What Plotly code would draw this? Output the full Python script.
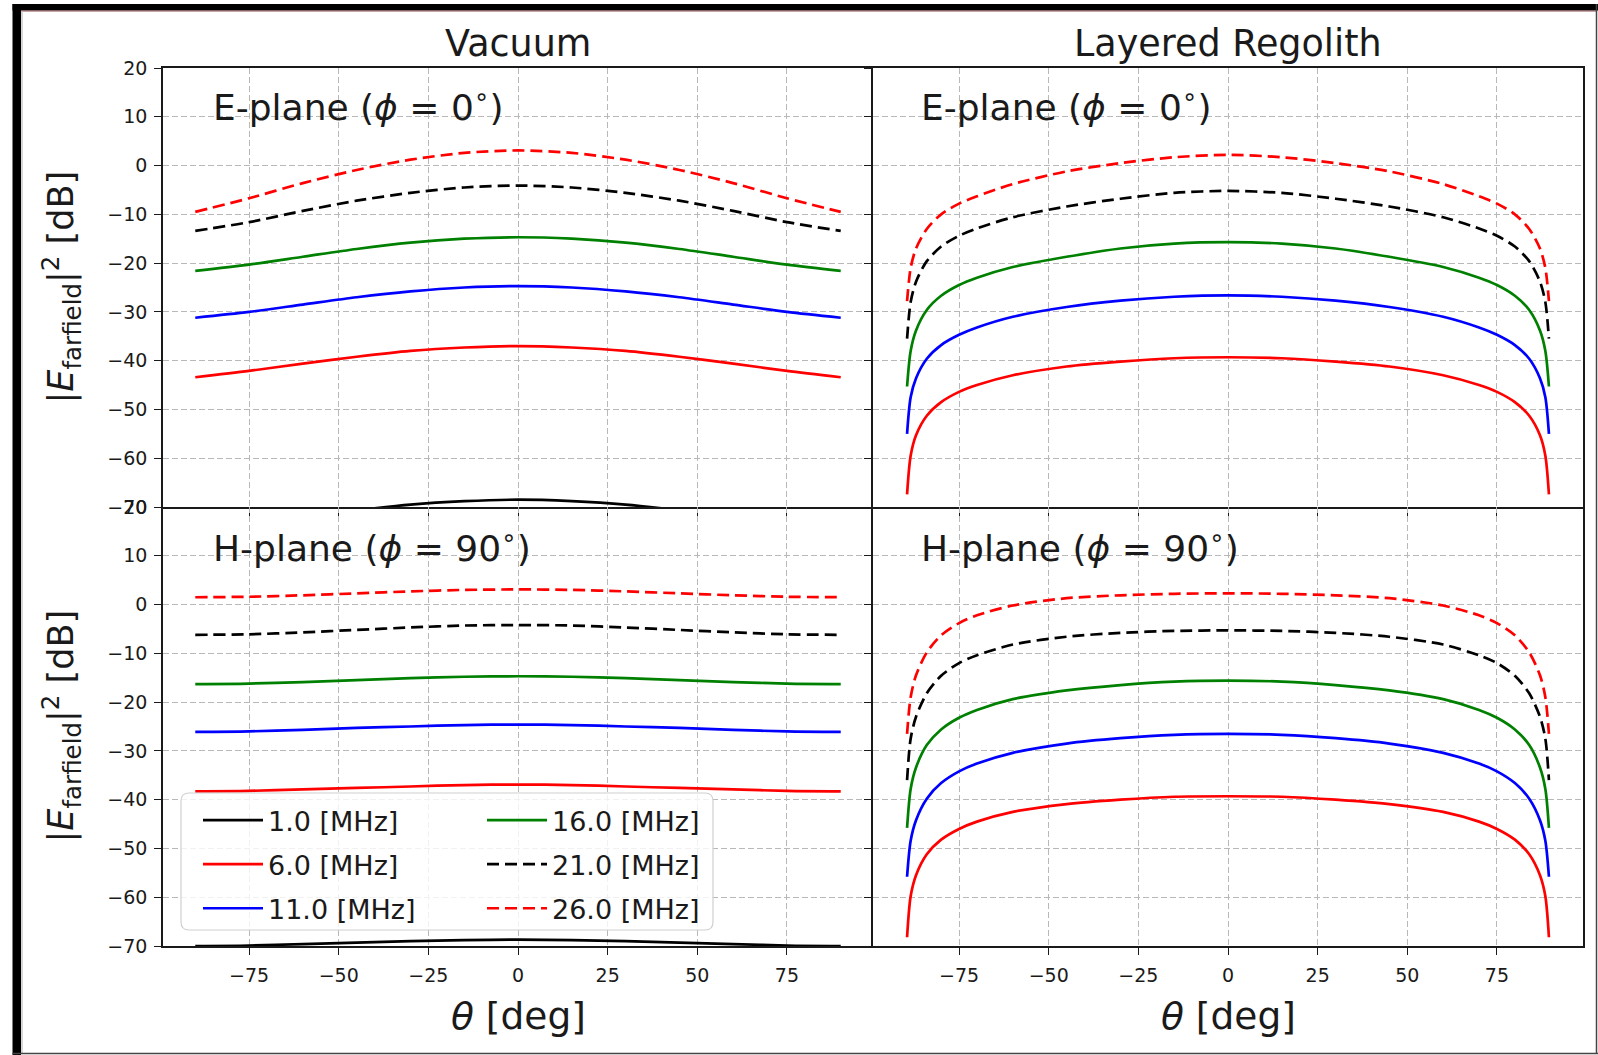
import plotly.graph_objects as go

# ---------------- data ----------------
freq_labels = ["1.0 [MHz]", "6.0 [MHz]", "11.0 [MHz]", "16.0 [MHz]", "21.0 [MHz]", "26.0 [MHz]"]
line_colors = ["black", "red", "blue", "green", "black", "red"]
line_dashes = ["solid", "solid", "solid", "solid", "dash", "dash"]

theta_vac = [-90, -75, -60, -45, -30, -15, 0, 15, 30, 45, 60, 75, 90]

vacE_1 = [-74.9, -73.6, -72.1, -70.7, -69.5, -68.8, -68.5, -68.8, -69.5, -70.7, -72.1, -73.6, -74.9]
vacE_6 = [-43.4, -42.1, -40.6, -39.2, -38.0, -37.3, -37.0, -37.3, -38.0, -39.2, -40.6, -42.1, -43.4]
vacE_11 = [-31.2, -30.0, -28.5, -27.0, -25.8, -25.0, -24.7, -25.0, -25.8, -27.0, -28.5, -30.0, -31.2]
vacE_16 = [-21.6, -20.3, -18.7, -17.1, -15.8, -15.0, -14.7, -15.0, -15.8, -17.1, -18.7, -20.3, -21.6]
vacE_21 = [-13.4, -11.6, -9.3, -7.2, -5.6, -4.5, -4.1, -4.5, -5.6, -7.2, -9.3, -11.6, -13.4]
vacE_26 = [-9.5, -6.7, -3.6, -0.9, 1.2, 2.6, 3.1, 2.6, 1.2, -0.9, -3.6, -6.7, -9.5]

vacH_1 = [-70.0, -69.9, -69.6, -69.3, -69.0, -68.8, -68.7, -68.8, -69.0, -69.3, -69.6, -69.9, -70.0]
vacH_6 = [-38.3, -38.2, -37.9, -37.6, -37.3, -37.0, -36.9, -37.0, -37.3, -37.6, -37.9, -38.2, -38.3]
vacH_11 = [-26.1, -26.0, -25.7, -25.3, -25.0, -24.7, -24.6, -24.7, -25.0, -25.3, -25.7, -26.0, -26.1]
vacH_16 = [-16.3, -16.2, -15.9, -15.5, -15.1, -14.8, -14.7, -14.8, -15.1, -15.5, -15.9, -16.2, -16.3]
vacH_21 = [-6.2, -6.1, -5.7, -5.2, -4.7, -4.3, -4.2, -4.3, -4.7, -5.2, -5.7, -6.1, -6.2]
vacH_26 = [1.5, 1.6, 1.9, 2.3, 2.7, 3.0, 3.1, 3.0, 2.7, 2.3, 1.9, 1.6, 1.5]

theta_reg = [-89.5, -88.5, -87, -84, -80, -75, -70, -60, -45, -30, -15, 0,
             15, 30, 45, 60, 70, 75, 80, 84, 87, 88.5, 89.5]

regE_1 = [-103.6, -95.7, -91.5, -87.5, -84.7, -82.6, -81.2, -79.2, -77.4, -76.4, -75.7, -75.5,
          -75.7, -76.4, -77.4, -79.2, -81.2, -82.6, -84.7, -87.5, -91.5, -95.7, -103.6]
regE_6 = [-67.4, -59.5, -55.3, -51.3, -48.5, -46.4, -45.0, -43.0, -41.2, -40.2, -39.5, -39.3,
          -39.5, -40.2, -41.2, -43.0, -45.0, -46.4, -48.5, -51.3, -55.3, -59.5, -67.4]
regE_11 = [-55.0, -47.5, -43.6, -39.6, -36.8, -34.7, -33.2, -31.0, -29.0, -27.7, -26.9, -26.6,
           -26.9, -27.7, -29.0, -31.0, -33.2, -34.7, -36.8, -39.6, -43.6, -47.5, -55.0]
regE_16 = [-45.3, -38.0, -33.8, -29.6, -26.7, -24.5, -23.0, -20.8, -18.7, -17.0, -16.0, -15.7,
           -16.0, -17.0, -18.7, -20.8, -23.0, -24.5, -26.7, -29.6, -33.8, -38.0, -45.3]
regE_21 = [-35.5, -28.0, -23.8, -19.6, -16.6, -14.4, -12.9, -10.6, -8.4, -6.8, -5.6, -5.2,
           -5.6, -6.8, -8.4, -10.6, -12.9, -14.4, -16.6, -19.6, -23.8, -28.0, -35.5]
regE_26 = [-27.8, -21.0, -17.0, -13.0, -10.0, -7.8, -6.3, -3.8, -1.2, 0.5, 1.7, 2.2,
           1.7, 0.5, -1.2, -3.8, -6.3, -7.8, -10.0, -13.0, -17.0, -21.0, -27.8]

regH_1 = [-104.4, -96.0, -91.7, -87.4, -84.4, -82.2, -80.7, -78.7, -77.1, -76.2, -75.6, -75.5,
          -75.6, -76.2, -77.1, -78.7, -80.7, -82.2, -84.4, -87.4, -91.7, -96.0, -104.4]
regH_6 = [-68.2, -59.8, -55.5, -51.2, -48.2, -46.0, -44.5, -42.5, -40.9, -40.0, -39.4, -39.3,
          -39.4, -40.0, -40.9, -42.5, -44.5, -46.0, -48.2, -51.2, -55.5, -59.8, -68.2]
regH_11 = [-55.8, -48.4, -44.2, -39.8, -36.6, -34.2, -32.6, -30.4, -28.5, -27.4, -26.7, -26.5,
           -26.7, -27.4, -28.5, -30.4, -32.6, -34.2, -36.6, -39.8, -44.2, -48.4, -55.8]
regH_16 = [-45.8, -37.8, -33.4, -28.8, -25.6, -23.2, -21.6, -19.4, -17.6, -16.5, -15.8, -15.6,
           -15.8, -16.5, -17.6, -19.4, -21.6, -23.2, -25.6, -28.8, -33.4, -37.8, -45.8]
regH_21 = [-36.0, -27.5, -23.0, -18.2, -14.6, -12.0, -10.4, -8.2, -6.6, -5.8, -5.4, -5.3,
           -5.4, -5.8, -6.6, -8.2, -10.4, -12.0, -14.6, -18.2, -23.0, -27.5, -36.0]
regH_26 = [-26.5, -19.0, -14.5, -9.8, -6.3, -3.8, -2.2, -0.2, 1.3, 1.9, 2.2, 2.3,
           2.2, 1.9, 1.3, -0.2, -2.2, -3.8, -6.3, -9.8, -14.5, -19.0, -26.5]

x_ticks = [-75, -50, -25, 0, 25, 50, 75]
y_ticks = [20, 10, 0, -10, -20, -30, -40, -50, -60, -70]
col_titles = ["Vacuum", "Layered Regolith"]
plane_labels = ["E-plane (<i>ϕ</i> = 0<sup>∘</sup>)", "H-plane (<i>ϕ</i> = 90<sup>∘</sup>)"]

# ---------------- layout geometry ----------------
FONT = "DejaVu Sans"
W, H = 1598, 1055
L, R, T, B = 163, 15, 68, 109
PW, PH = W - L - R, H - T - B


def px(x):
    return (x - L) / PW


def py(y):
    return (H - B - y) / PH


fig = go.Figure()

panels = [
    ("x", "y", theta_vac, [vacE_1, vacE_6, vacE_11, vacE_16, vacE_21, vacE_26], False),
    ("x2", "y2", theta_reg, [regE_1, regE_6, regE_11, regE_16, regE_21, regE_26], False),
    ("x3", "y3", theta_vac, [vacH_1, vacH_6, vacH_11, vacH_16, vacH_21, vacH_26], True),
    ("x4", "y4", theta_reg, [regH_1, regH_6, regH_11, regH_16, regH_21, regH_26], False),
]

for xa, ya, th, series, show in panels:
    for i, (lab, col, dsh, vals) in enumerate(zip(freq_labels, line_colors, line_dashes, series)):
        fig.add_trace(go.Scatter(
            x=th, y=vals, xaxis=xa, yaxis=ya, mode="lines", name=lab,
            line=dict(color=col, width=2.7, dash=("12px,6px" if dsh == "dash" else "solid"),
                      shape="spline", smoothing=0.8),
            showlegend=show,
            legend=("legend" if i < 3 else "legend2"),
            legendgroup=lab,
            hoverinfo="skip",
        ))

axis_common = dict(
    showline=True, linecolor="#1a1a1a", linewidth=1.6,
    ticks="outside", ticklen=7, tickwidth=1.3, tickcolor="#1a1a1a",
    showgrid=True, gridcolor="#b8b8b8", gridwidth=1, griddash="6px,3px",
    zeroline=False, tickfont=dict(family=FONT, size=19, color="#1a1a1a"),
)

xdom = {"x": [0, 0.5], "x2": [0.5, 1], "x3": [0, 0.5], "x4": [0.5, 1]}
ydom = {"y": [0.5, 1], "y2": [0.5, 1], "y3": [0, 0.5], "y4": [0, 0.5]}
pairs = [("x", "y"), ("x2", "y2"), ("x3", "y3"), ("x4", "y4")]
for xa, ya in pairs:
    xkey = "xaxis" + xa[1:]
    ykey = "yaxis" + ya[1:]
    fig.update_layout({
        # top panels draw top+bottom frame lines; bottom panels draw only their bottom line
        xkey: dict(axis_common, domain=xdom[xa], anchor=ya, range=[-99, 99],
                   mirror=(xa in ("x", "x2")),
                   tickvals=x_ticks, showticklabels=(xa in ("x3", "x4")), ticklabelstandoff=4),
        # right panels draw left+right frame lines; left panels draw only their left line
        ykey: dict(axis_common, domain=ydom[ya], anchor=xa, range=[-70, 20],
                   mirror=(ya in ("y2", "y4")),
                   tickvals=y_ticks, showticklabels=(ya in ("y", "y3")), ticklabelstandoff=3),
    })

annotations = []
# column titles
for cx, txt in zip([0.25, 0.75], col_titles):
    annotations.append(dict(x=cx, y=py(43), xref="paper", yref="paper", text=txt,
                            showarrow=False, xanchor="center", yanchor="middle",
                            font=dict(family=FONT, size=36.5, color="#1a1a1a")))
# plane labels
for (lx, ly, txt) in [(px(211), py(105), plane_labels[0]), (px(919), py(105), plane_labels[0]),
                      (px(211), py(546), plane_labels[1]), (px(919), py(546), plane_labels[1])]:
    annotations.append(dict(x=lx, y=ly, xref="paper", yref="paper", text=txt,
                            showarrow=False, xanchor="left", yanchor="middle",
                            font=dict(family=FONT, size=36, color="#1a1a1a")))
# x axis titles
for cx in [0.25, 0.75]:
    annotations.append(dict(x=cx, y=py(1016), xref="paper", yref="paper",
                            text="<i>θ</i> [deg]", showarrow=False,
                            xanchor="center", yanchor="middle",
                            font=dict(family=FONT, size=37.5, color="#1a1a1a")))
# y axis titles
for cy in [0.75, 0.25]:
    annotations.append(dict(x=px(61), y=cy, xref="paper", yref="paper",
                            text="|<i>E</i><sub>farfield</sub>|<sup>2</sup> [dB]",
                            showarrow=False, textangle=-90,
                            xanchor="center", yanchor="middle",
                            font=dict(family=FONT, size=35, color="#1a1a1a")))

# legend frame (rounded box, like matplotlib's)
bx0, bx1, by0, by1 = px(181), px(713), py(930), py(793)
rx, ry = 8 / PW, 8 / PH
legend_box = (f"M {bx0+rx},{by0} L {bx1-rx},{by0} Q {bx1},{by0} {bx1},{by0+ry} "
              f"L {bx1},{by1-ry} Q {bx1},{by1} {bx1-rx},{by1} "
              f"L {bx0+rx},{by1} Q {bx0},{by1} {bx0},{by1-ry} "
              f"L {bx0},{by0+ry} Q {bx0},{by0} {bx0+rx},{by0} Z")

shapes = [
    dict(type="path", path=legend_box, xref="paper", yref="paper", layer="above",
         fillcolor="rgba(255,255,255,0.8)", line=dict(color="#d0d0d0", width=1.2)),
    # outer image frame
    dict(type="rect", xref="paper", yref="paper", x0=px(12.5), x1=px(21), y0=py(1055), y1=py(4),
         fillcolor="black", line=dict(width=0), layer="above"),
    dict(type="rect", xref="paper", yref="paper", x0=px(12.5), x1=px(1598), y0=py(10.5), y1=py(4),
         fillcolor="black", line=dict(width=0), layer="above"),
    dict(type="line", xref="paper", yref="paper", x0=px(21), x1=px(1597), y0=py(11), y1=py(11),
         line=dict(color="#8a4a4a", width=1), layer="above"),
    dict(type="line", xref="paper", yref="paper", x0=px(22), x1=px(22), y0=py(1053), y1=py(11),
         line=dict(color="#c8c8c8", width=1.5), layer="above"),
    dict(type="line", xref="paper", yref="paper", x0=px(1596.5), x1=px(1596.5), y0=py(1054), y1=py(4),
         line=dict(color="#444444", width=1.5), layer="above"),
    dict(type="line", xref="paper", yref="paper", x0=px(12.5), x1=px(1598), y0=py(1053.5), y1=py(1053.5),
         line=dict(color="#444444", width=1.5), layer="above"),
]

legend_common = dict(
    xanchor="left", yanchor="top", bgcolor="rgba(0,0,0,0)", borderwidth=0,
    font=dict(family=FONT, size=27, color="#1a1a1a"), itemwidth=60,
    tracegroupgap=6, traceorder="grouped",
)

fig.update_layout(
    width=W, height=H,
    margin=dict(l=L, r=R, t=T, b=B),
    paper_bgcolor="white", plot_bgcolor="white",
    annotations=annotations,
    shapes=shapes,
    legend=dict(legend_common, x=px(198), y=py(796)),
    legend2=dict(legend_common, x=px(482), y=py(796)),
    hovermode=False,
)

fig.write_html("out.html")
